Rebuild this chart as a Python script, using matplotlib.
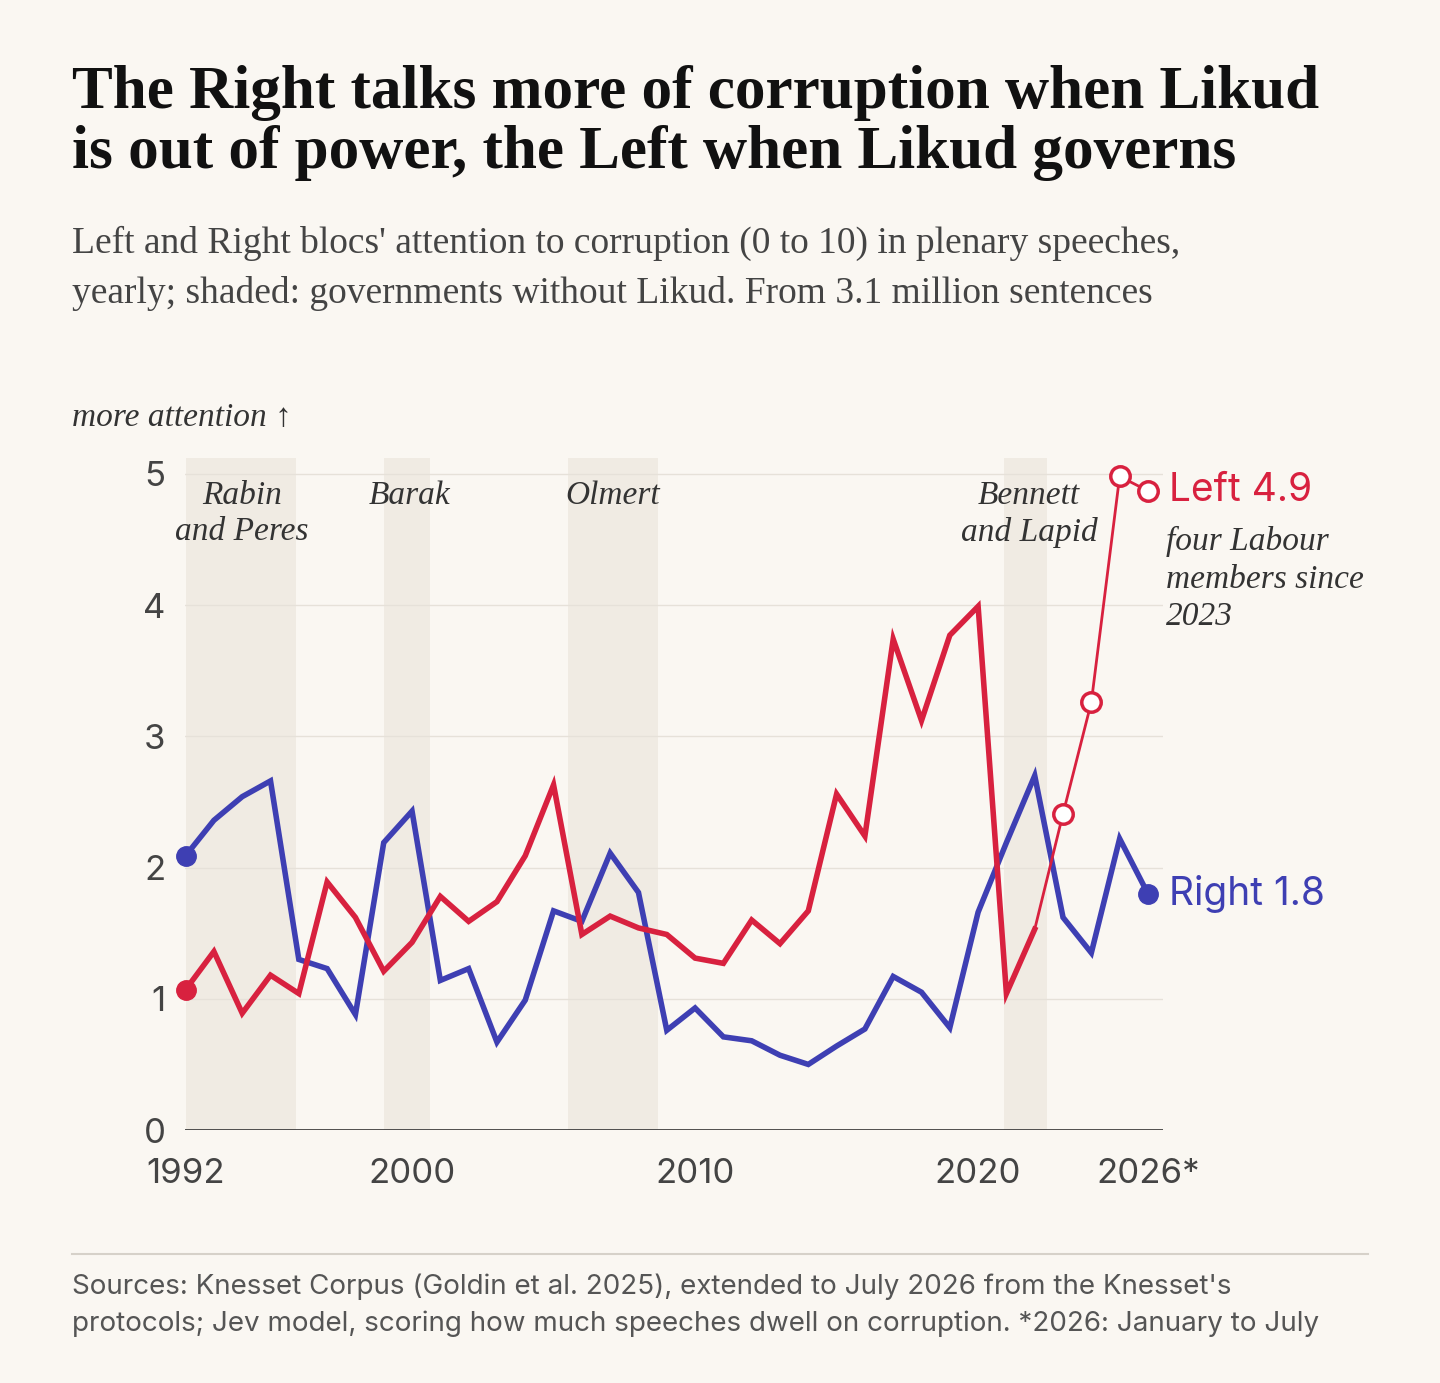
import matplotlib
matplotlib.use("Agg")
import matplotlib.pyplot as plt

years = list(range(1992, 2027))
right = [2.09,2.36,2.54,2.66,1.30,1.23,0.88,2.19,2.43,1.14,1.23,0.67,0.99,1.67,1.59,2.11,1.81,0.76,0.93,0.71,
         0.68,0.57,0.50,0.64,0.77,1.17,1.05,0.78,1.66,2.19,2.70,1.62,1.35,2.22,1.80]
left_years = list(range(1992, 2023))
left = [1.07,1.36,0.89,1.18,1.04,1.89,1.62,1.21,1.43,1.78,1.59,1.74,2.09,2.63,1.49,1.63,1.54,1.49,1.31,1.27,
        1.60,1.42,1.67,2.56,2.24,3.74,3.12,3.77,3.99,1.04,1.53]
labour_years = [2022, 2023, 2024, 2025, 2026]
labour = [1.53, 2.41, 3.26, 4.98, 4.87]
shades = [(1992.0, 1995.9, "Rabin\nand Peres"), (1999.0, 2000.65, "Barak"),
          (2005.5, 2008.7, "Olmert"), (2020.9, 2022.45, "Bennett\nand Lapid")]
xticks = [1992, 2000, 2010, 2020, 2026]
xticklabels = ["1992", "2000", "2010", "2020", "2026*"]

BG = "#faf7f2"; RED = "#d8213f"; BLUE = "#3e3fb3"; SH = "#f0ebe3"
SERIF = ["Liberation Serif", "DejaVu Serif"]
SANS = ["Inter", "DejaVu Sans"]

fig = plt.figure(figsize=(14.4, 13.83), dpi=100, facecolor=BG)
ax = fig.add_axes([0.1285, 0.1829, 0.8076 - 0.1285, 0.6688 - 0.1829])
ax.set_facecolor(BG)
ax.set_xlim(1992 - 0.02, 2026.53)
ax.set_ylim(0, 5.12)
for a, b, lab in shades:
    ax.axvspan(a, b, color=SH, lw=0, zorder=0)
for y in [1, 2, 3, 4, 5]:
    ax.axhline(y, color="#e6e1d9", lw=1, zorder=0.5)
ax.axhline(0, color="#333333", lw=1.2, zorder=1)
for s in ax.spines.values():
    s.set_visible(False)
ax.tick_params(axis="x", length=0, labelsize=25, labelcolor="#444444", pad=20)
ax.tick_params(axis="y", length=0, labelsize=25, labelcolor="#444444", pad=14)
ax.set_yticks([0, 1, 2, 3, 4, 5])
ax.set_yticklabels(["0", "1", "2", "3", "4", "5"], fontfamily=SANS)
ax.set_xticks(xticks)
ax.set_xticklabels(xticklabels, fontfamily=SANS)

ax.plot(years, right, color=BLUE, lw=4, zorder=3, solid_joinstyle="miter")
ax.plot(left_years, left, color=RED, lw=4, zorder=3, solid_joinstyle="miter")
ax.plot(labour_years, labour, color=RED, lw=2, zorder=3, clip_on=False)
ax.plot(labour_years[1:], labour[1:], "o", ms=14, mfc="white", mec=RED, mew=2.5, zorder=4, clip_on=False)
ax.plot([years[0], years[-1]], [right[0], right[-1]], "o", ms=14, color=BLUE, zorder=4, clip_on=False)
ax.plot([left_years[0]], [left[0]], "o", ms=14, color=RED, zorder=4, clip_on=False)

lx = {0: 1994.0, 1: 1999.9, 2: 2007.1, 3: 2021.8}
for i, (a, b, lab) in enumerate(shades):
    ax.text(lx[i], 4.95, lab, ha="center", va="top", fontsize=24, style="italic",
            fontfamily=SERIF, color="#333333", linespacing=1.25)

ax.text(2026.75, 4.87, "Left 4.9", color=RED, fontsize=28, va="center", fontfamily=SANS)
ax.text(2026.65, 4.6, "four Labour\nmembers since\n2023", color="#333333", fontsize=24, style="italic",
        va="top", fontfamily=SERIF, linespacing=1.3)
ax.text(2026.75, 1.80, "Right 1.8", color=BLUE, fontsize=28, va="center", fontfamily=SANS)

fig.text(0.05, 0.953, "The Right talks more of corruption when Likud\nis out of power, the Left when Likud governs",
         fontsize=44, fontweight="bold", fontfamily=SERIF, color="#111111", va="top", linespacing=1.1)
fig.text(0.05, 0.837, "Left and Right blocs' attention to corruption (0 to 10) in plenary speeches,\n"
         "yearly; shaded: governments without Likud. From 3.1 million sentences",
         fontsize=27, fontfamily=SERIF, color="#444444", va="top", linespacing=1.55)
fig.text(0.05, 0.698, "more attention \u2191", fontsize=24, style="italic", fontfamily=SERIF,
         color="#333333", va="center")
fig.add_artist(plt.Line2D([0.05, 0.95], [0.093, 0.093], color="#d6d1c9", lw=1.5))
fig.text(0.05, 0.079, "Sources: Knesset Corpus (Goldin et al. 2025), extended to July 2026 from the Knesset's\n"
         "protocols; Jev model, scoring how much speeches dwell on corruption. *2026: January to July",
         fontsize=20, fontfamily=SANS, color="#555555", va="top", linespacing=1.5)

fig.savefig("out.png", dpi=100, facecolor=BG)
